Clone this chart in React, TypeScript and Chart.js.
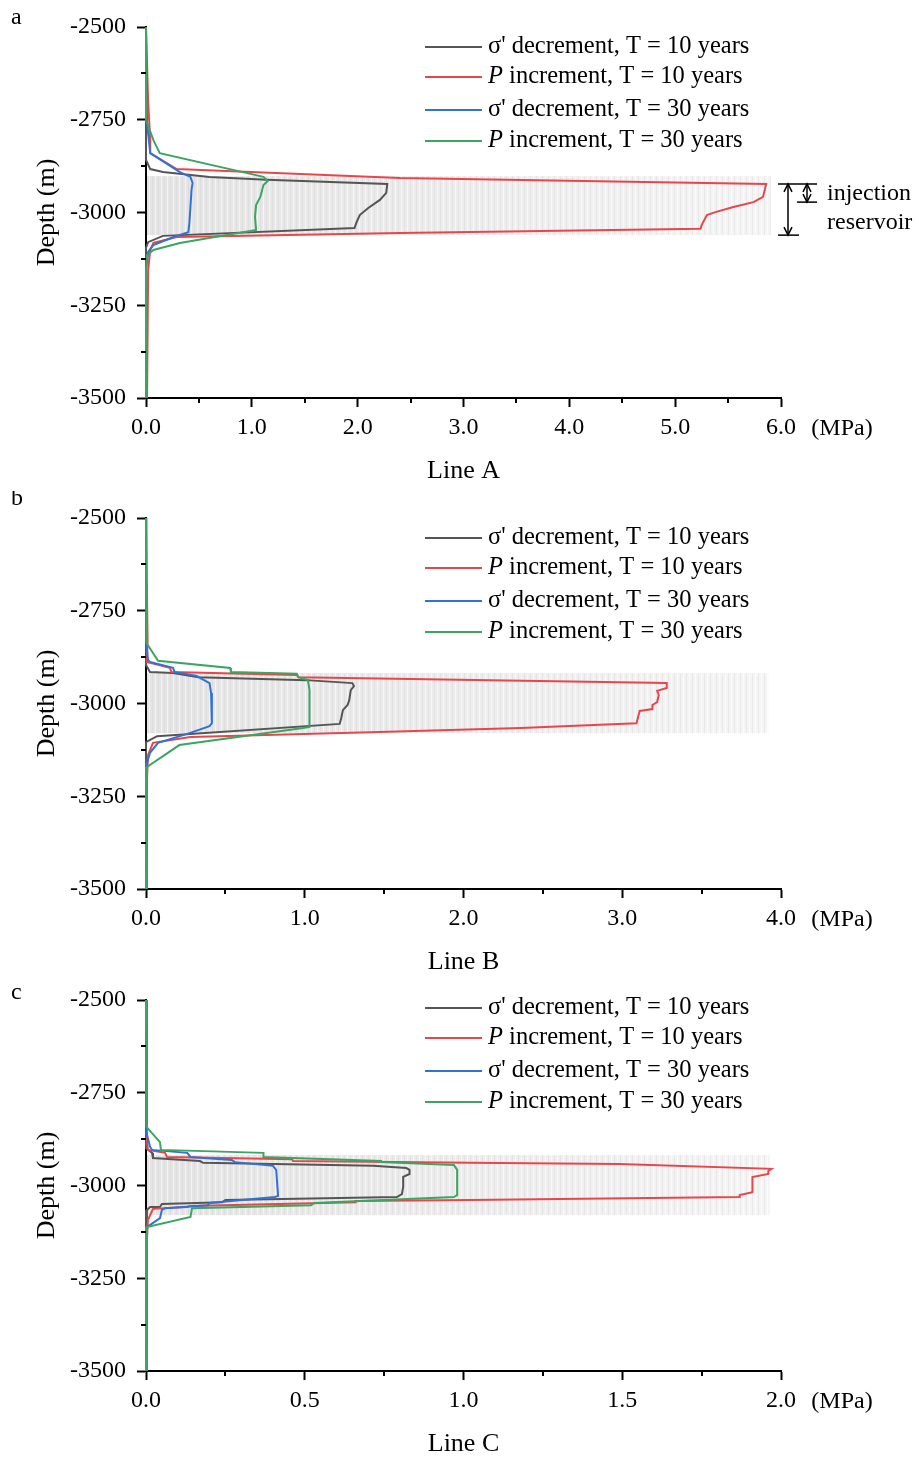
import React, { useEffect, useRef } from "react";
import { Chart, registerables } from "chart.js";
Chart.register(...registerables);

const FONT = '"Liberation Serif", "Times New Roman", Times, serif';
const W = 919;
const H = 487;
const PANEL_TOPS = [0, 491, 973];

// ---------- Line A ----------
const A_sig10_depth = [-2500, -2858, -2883, -2891, -2904, -2912, -2923, -2947, -2966, -2988, -3007, -3026, -3042, -3063, -3080, -3095, -3500];
const A_sig10_val = [0, 0, 0.04, 0.16, 0.6, 1.14, 2.28, 2.27, 2.21, 2.1, 2.02, 1.99, 1.97, 0.16, 0.02, 0, 0];
const A_p10_depth = [-2500, -2700, -2805, -2840, -2883, -2907, -2923, -2958, -2972, -2985, -2999, -3007, -3034, -3044, -3055, -3066, -3082, -3101, -3155, -3500];
const A_p10_val = [0, 0.02, 0.04, 0.04, 0.29, 2.4, 5.86, 5.83, 5.74, 5.55, 5.38, 5.3, 5.25, 5.24, 2.4, 0.29, 0.07, 0.04, 0.02, 0.01];
const A_sig30_depth = [-2500, -2760, -2840, -2891, -2904, -2920, -2939, -2985, -3028, -3053, -3066, -3088, -3106, -3155, -3500];
const A_sig30_val = [0, 0.01, 0.04, 0.32, 0.42, 0.44, 0.43, 0.42, 0.41, 0.4, 0.26, 0.07, 0.02, 0, 0];
const A_p30_depth = [-2500, -2750, -2805, -2840, -2904, -2915, -2926, -2958, -2980, -3012, -3047, -3082, -3101, -3115, -3160, -3500];
const A_p30_val = [0, 0, 0.07, 0.13, 1.11, 1.15, 1.11, 1.08, 1.04, 1.03, 1.04, 0.32, 0.07, 0.01, 0, 0];

// ---------- Line B ----------
const B_sig10_depth = [-2500, -2896, -2915, -2918, -2929, -2937, -2945, -2953, -2964, -2991, -3004, -3018, -3039, -3055, -3088, -3104, -3500];
const B_sig10_val = [0, 0, 0.025, 0.17, 0.33, 1.01, 1.3, 1.31, 1.29, 1.28, 1.27, 1.24, 1.23, 1.22, 0.07, 0, 0];
const B_p10_depth = [-2500, -2829, -2888, -2904, -2915, -2923, -2929, -2945, -2958, -2966, -2977, -2996, -3004, -3015, -3020, -3036, -3053, -3066, -3077, -3090, -3106, -3139, -3206, -3500];
const B_p10_val = [0, 0.01, 0.006, 0.15, 0.16, 0.95, 0.96, 3.28, 3.28, 3.22, 3.23, 3.22, 3.19, 3.19, 3.11, 3.1, 3.09, 2.36, 1.47, 0.28, 0.044, 0.013, 0.006, 0.006];
const B_sig30_depth = [-2500, -2829, -2883, -2888, -2904, -2915, -2926, -2931, -2945, -2972, -3053, -3061, -3082, -3106, -3133, -3160, -3500];
const B_sig30_val = [0, 0, 0.013, 0.025, 0.17, 0.18, 0.32, 0.34, 0.4, 0.41, 0.415, 0.4, 0.26, 0.076, 0.025, 0.006, 0];
const B_p30_depth = [-2500, -2818, -2837, -2885, -2904, -2915, -2920, -2929, -2937, -2964, -3063, -3066, -3112, -3171, -3500];
const B_p30_val = [0, 0, 0.006, 0.076, 0.53, 0.535, 0.95, 0.96, 1.02, 1.03, 1.03, 0.99, 0.21, 0.006, 0];

// ---------- Line C ----------
const C_sig10_depth = [-2500, -2899, -2912, -2926, -2934, -2939, -2947, -2953, -2958, -2969, -2977, -3004, -3023, -3031, -3039, -3045, -3050, -3058, -3058, -3066, -3500];
const C_sig10_val = [0, 0, 0.019, 0.022, 0.17, 0.18, 0.715, 0.82, 0.83, 0.83, 0.81, 0.81, 0.806, 0.79, 0.25, 0.24, 0.05, 0.044, 0.013, 0.003, 0];
const C_p10_depth = [-2500, -2877, -2904, -2912, -2923, -2929, -2934, -2939, -2942, -2955, -2961, -2969, -2977, -3018, -3026, -3031, -3039, -3042, -3045, -3055, -3058, -3063, -3093, -3147, -3500];
const C_p10_val = [0, 0.003, 0.006, 0.06, 0.066, 0.46, 0.463, 1.02, 1.49, 1.97, 1.96, 1.96, 1.91, 1.91, 1.87, 1.87, 1.02, 0.66, 0.66, 0.14, 0.13, 0.022, 0.006, 0.003, 0.003];
const C_sig30_depth = [-2500, -2823, -2858, -2896, -2904, -2912, -2923, -2931, -2937, -2947, -2958, -3028, -3031, -3047, -3053, -3061, -3066, -3088, -3112, -3500];
const C_sig30_val = [0, 0, 0.003, 0.013, 0.019, 0.13, 0.14, 0.27, 0.28, 0.4, 0.41, 0.416, 0.406, 0.2, 0.195, 0.06, 0.05, 0.044, 0.003, 0];
const C_p30_depth = [-2500, -2829, -2842, -2883, -2904, -2912, -2923, -2934, -2937, -2945, -2958, -3026, -3031, -3047, -3053, -3061, -3085, -3112, -3500];
const C_p30_val = [0, 0, 0.003, 0.044, 0.047, 0.37, 0.37, 0.74, 0.74, 0.97, 0.98, 0.98, 0.97, 0.53, 0.52, 0.145, 0.14, 0.003, 0];

// ---------- shared labels / axes ----------
const SERIES_COLORS = ["#555555", "#e8464b", "#2f72d8", "#3aa661"];
const LEGEND_SYMBOL = ["σ'", "P", "σ'", "P"];
const LEGEND_ITALIC = [false, true, false, true];
const LEGEND_REST = [" decrement, T = 10 years", " increment, T = 10 years", " decrement, T = 30 years", " increment, T = 30 years"];
const LEGEND_ROWS = [47, 77, 110, 141];
const LEGEND_SHIFT = [0, 0, -12];

const PANEL_LETTERS = ["a", "b", "c"];
const LETTER_BASELINE = [24, 14, 26];
const PANEL_TITLES = ["Line A", "Line B", "Line C"];
const X_MAX = [6, 4, 2];
const X_STEP = [1, 1, 0.5];
const Y_MIN = -3500;
const Y_MAX = -2500;
const Y_STEP = 250;
const X_UNIT = "(MPa)";
const Y_TITLE = "Depth (m)";

const BAND_TOP = [-2902, -2918, -2918];
const BAND_BOTTOM = [-3061, -3080, -3080];
const BAND_RIGHT = [5.9, 3.92, 1.965];

const INJ_TOP = -2923;
const INJ_BOTTOM = -2972;
const RES_BOTTOM = -3061;
const INJ_LABELS = ["injection", "reservoir"];

const PANEL_SERIES = [
  [[A_sig10_val, A_sig10_depth], [A_p10_val, A_p10_depth], [A_sig30_val, A_sig30_depth], [A_p30_val, A_p30_depth]],
  [[B_sig10_val, B_sig10_depth], [B_p10_val, B_p10_depth], [B_sig30_val, B_sig30_depth], [B_p30_val, B_p30_depth]],
  [[C_sig10_val, C_sig10_depth], [C_p10_val, C_p10_depth], [C_sig30_val, C_sig30_depth], [C_p30_val, C_p30_depth]],
];

function buildConfig(pi: number): any {
  const datasets = PANEL_SERIES[pi].map(([vals, depths], i) => ({
    type: "scatter",
    label: LEGEND_SYMBOL[i] + LEGEND_REST[i],
    data: vals.map((v, k) => ({ x: v, y: depths[k] })),
    showLine: true,
    borderColor: SERIES_COLORS[i],
    backgroundColor: SERIES_COLORS[i],
    borderWidth: 2,
    pointRadius: 0,
    tension: 0,
    fill: false,
    clip: false,
    order: 4 - i,
  }));

  const bandPlugin = {
    id: "band",
    beforeDatasetsDraw(chart: any) {
      const { ctx, scales } = chart;
      const x = scales.x, y = scales.y;
      const x0 = x.getPixelForValue(0) + 1;
      const x1 = x.getPixelForValue(BAND_RIGHT[pi]);
      const y0 = y.getPixelForValue(BAND_TOP[pi]);
      const y1 = y.getPixelForValue(BAND_BOTTOM[pi]);
      ctx.save();
      const g = ctx.createLinearGradient(x0, 0, x1, 0);
      g.addColorStop(0, "#e4e4e4");
      g.addColorStop(1, "#f5f5f5");
      ctx.fillStyle = g;
      ctx.fillRect(x0, y0, x1 - x0, y1 - y0);
      ctx.lineWidth = 1;
      for (let px = Math.floor(x0) + 2, k = 0; px < x1; px += 3, k++) {
        ctx.strokeStyle = k % 2 === 0 ? "rgba(255,255,255,0.55)" : "rgba(200,200,200,0.25)";
        ctx.beginPath();
        ctx.moveTo(px + 0.5, y0);
        ctx.lineTo(px + 0.5, y1);
        ctx.stroke();
      }
      ctx.restore();
    },
  };

  const decorPlugin = {
    id: "decor",
    afterDraw(chart: any) {
      const { ctx, scales } = chart;
      const x = scales.x, y = scales.y;
      const axY = y.getPixelForValue(Y_MIN);
      const axX = x.getPixelForValue(0);
      ctx.save();
      ctx.strokeStyle = "#000";
      ctx.lineWidth = 2;
      // minor ticks x
      const half = X_STEP[pi] / 2;
      for (let v = half; v < X_MAX[pi]; v += X_STEP[pi]) {
        const px = Math.round(x.getPixelForValue(v));
        ctx.beginPath();
        ctx.moveTo(px, axY);
        ctx.lineTo(px, axY + 5);
        ctx.stroke();
      }
      // minor ticks y
      for (let d = Y_MIN + Y_STEP / 2; d < Y_MAX; d += Y_STEP) {
        const py = Math.round(y.getPixelForValue(d));
        ctx.beginPath();
        ctx.moveTo(axX, py);
        ctx.lineTo(axX - 5, py);
        ctx.stroke();
      }
      // unit label
      ctx.fillStyle = "#000";
      ctx.font = `24px ${FONT}`;
      ctx.textAlign = "center";
      ctx.textBaseline = "middle";
      ctx.fillText(X_UNIT, 842, 429);
      // panel letter
      ctx.textAlign = "left";
      ctx.textBaseline = "alphabetic";
      ctx.fillText(PANEL_LETTERS[pi], 11, LETTER_BASELINE[pi]);
      // legend
      for (let i = 0; i < 4; i++) {
        const ly = LEGEND_ROWS[i] + LEGEND_SHIFT[pi];
        ctx.strokeStyle = SERIES_COLORS[i];
        ctx.lineWidth = 2;
        ctx.beginPath();
        ctx.moveTo(425, ly);
        ctx.lineTo(482, ly);
        ctx.stroke();
        ctx.fillStyle = "#000";
        ctx.textBaseline = "middle";
        ctx.font = `${LEGEND_ITALIC[i] ? "italic " : ""}24.5px ${FONT}`;
        ctx.fillText(LEGEND_SYMBOL[i], 488, ly);
        const w = ctx.measureText(LEGEND_SYMBOL[i]).width;
        ctx.font = `24.5px ${FONT}`;
        ctx.fillText(LEGEND_REST[i], 488 + w, ly);
      }
      // injection / reservoir markers (panel a)
      if (pi === 0) {
        const yT = y.getPixelForValue(INJ_TOP);
        const yI = y.getPixelForValue(INJ_BOTTOM);
        const yR = y.getPixelForValue(RES_BOTTOM);
        ctx.strokeStyle = "#000";
        ctx.lineWidth = 1.5;
        const seg = (a: number, b: number, c: number, d: number) => {
          ctx.beginPath();
          ctx.moveTo(a, b);
          ctx.lineTo(c, d);
          ctx.stroke();
        };
        seg(778, yT, 817, yT);
        seg(797, yI, 817, yI);
        seg(778, yR, 799, yR);
        const arrow = (ax: number, t: number, b: number) => {
          seg(ax, t, ax, b);
          ctx.beginPath();
          ctx.moveTo(ax - 4, t + 8);
          ctx.lineTo(ax, t);
          ctx.lineTo(ax + 4, t + 8);
          ctx.moveTo(ax - 4, b - 8);
          ctx.lineTo(ax, b);
          ctx.lineTo(ax + 4, b - 8);
          ctx.stroke();
        };
        arrow(788, yT, yR);
        arrow(807, yT, yI);
        ctx.fillStyle = "#000";
        ctx.font = `24px ${FONT}`;
        ctx.textAlign = "left";
        ctx.textBaseline = "alphabetic";
        ctx.fillText(INJ_LABELS[0], 827, 200);
        ctx.fillText(INJ_LABELS[1], 827, 229);
      }
      ctx.restore();
    },
  };

  return {
    type: "scatter",
    data: { datasets },
    plugins: [bandPlugin, decorPlugin],
    options: {
      responsive: false,
      animation: false,
      devicePixelRatio: 1,
      events: [],
      layout: { padding: { left: 0, right: 138, top: 27, bottom: 0 } },
      plugins: { legend: { display: false }, tooltip: { enabled: false } },
      scales: {
        x: {
          type: "linear",
          position: "bottom",
          min: 0,
          max: X_MAX[pi],
          afterFit: (s: any) => { s.height = 89; },
          ticks: {
            stepSize: X_STEP[pi],
            color: "#000",
            font: { family: FONT, size: 24 },
            padding: 6,
            maxRotation: 0,
            callback: (v: any) => Number(v).toFixed(1),
          },
          grid: { display: true, drawOnChartArea: false, drawTicks: true, tickLength: 9, tickWidth: 2, tickColor: "#000" },
          border: { display: true, color: "#000", width: 2 },
          title: { display: true, text: PANEL_TITLES[pi], color: "#000", font: { family: FONT, size: 26 }, padding: { top: 0, bottom: 0 } },
        },
        y: {
          type: "linear",
          position: "left",
          min: Y_MIN,
          max: Y_MAX,
          afterFit: (s: any) => { s.width = 146; },
          ticks: {
            stepSize: Y_STEP,
            color: "#000",
            font: { family: FONT, size: 24 },
            padding: 11,
            callback: (v: any) => String(v),
          },
          grid: { display: true, drawOnChartArea: false, drawTicks: true, tickLength: 9, tickWidth: 2, tickColor: "#000" },
          border: { display: true, color: "#000", width: 2 },
          title: { display: true, text: Y_TITLE, color: "#000", font: { family: FONT, size: 26 }, padding: { top: 32, bottom: 0 } },
        },
      },
    },
  };
}

function PanelChart({ pi }: { pi: number }) {
  const ref = useRef<HTMLCanvasElement>(null);
  useEffect(() => {
    const chart = new Chart(ref.current as HTMLCanvasElement, buildConfig(pi));
    return () => chart.destroy();
  }, [pi]);
  return (
    <canvas
      ref={ref}
      width={W}
      height={H}
      style={{ position: "absolute", left: 0, top: PANEL_TOPS[pi], width: W, height: H }}
    />
  );
}

export default function App() {
  return (
    <div style={{ position: "absolute", left: 0, top: 0, width: W, height: 1460, background: "#fff", overflow: "hidden" }}>
      <PanelChart pi={0} />
      <PanelChart pi={1} />
      <PanelChart pi={2} />
    </div>
  );
}
